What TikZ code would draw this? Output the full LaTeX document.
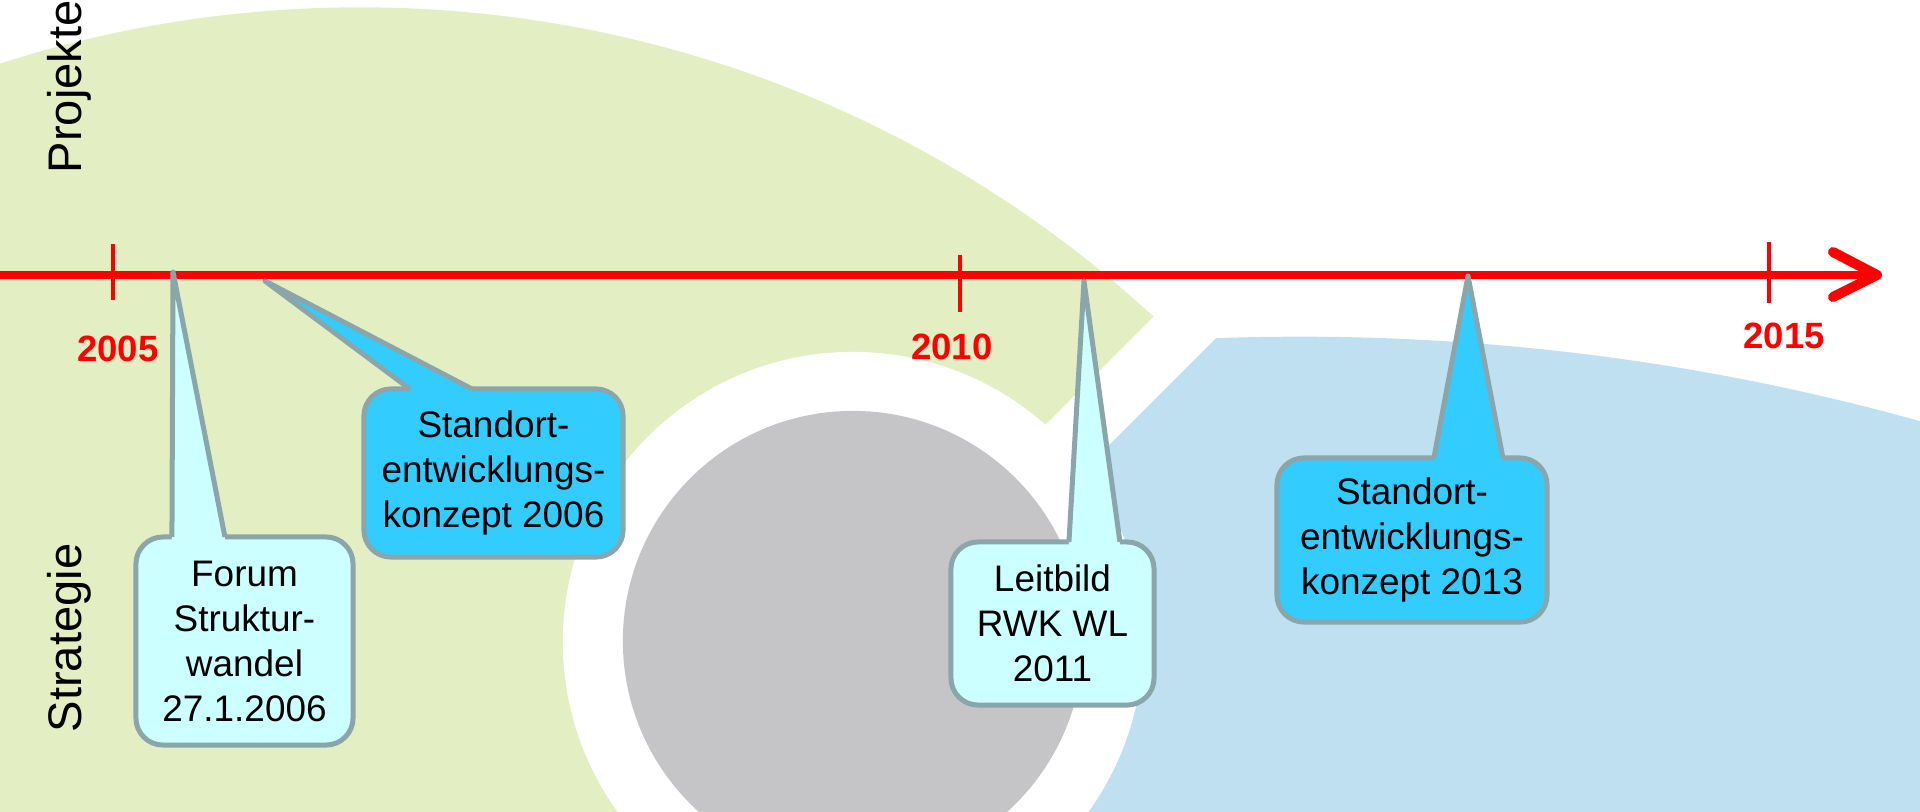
\documentclass[tikz,border=0pt]{standalone}
\usepackage{fontspec}
\setmainfont{Liberation Sans}
\usetikzlibrary{calc,positioning}

\definecolor{projektgruen}{HTML}{E3EEC3}
\definecolor{strategieblau}{HTML}{BFE0F0}
\definecolor{kerngrau}{HTML}{C5C5C7}
\definecolor{hellcyan}{HTML}{CCFFFF}
\definecolor{dunkelcyan}{HTML}{33CCFF}
\definecolor{rahmengrau}{HTML}{8AA6AA}

\tikzset{
  zeitachse/.style={draw=red, line width=0.085cm},
  pfeilkopf/.style={draw=red, line width=0.1cm, line cap=round, line join=round},
  strich/.style={draw=red, line width=0.043cm},
  jahr/.style={text=red, inner sep=0pt, font=\bfseries\fontsize{10.4}{12}\selectfont},
  achsentitel/.style={rotate=90, anchor=base west, inner sep=0pt, font=\fontsize{13.4}{16}\selectfont},
  callout/.style={draw=rahmengrau, line width=0.05cm, rounded corners=0.27cm,
    outer sep=0pt, inner sep=0pt, align=center, font=\fontsize{10.5}{12.8}\selectfont},
  hell/.style={callout, fill=hellcyan},
  dunkel/.style={callout, fill=dunkelcyan},
  zacke/.style={draw=rahmengrau, line width=0.05cm, line join=round}
}

\begin{document}
\begin{tikzpicture}[x=0.01cm,y=-0.01cm]
\useasboundingbox (0,0) rectangle (1920,811);
\clip (0,0) rectangle (1920,811);

% background
\begin{scope}
\clip (-100,-100) -- (1570,-100) -- (-100,1570) -- cycle;
\fill[projektgruen] (360,1180) circle[radius=11.72cm];
\end{scope}
\begin{scope}
\clip (1654,-100) -- (2100,-100) -- (2100,1000) -- (554,1000) -- cycle;
\fill[strategieblau] (1300,2638) circle[radius=23cm];
\end{scope}
\fill[white] (853,642) circle[radius=2.9cm];
\fill[kerngrau] (853,641) circle[radius=2.3cm];

\node[achsentitel] (projekte) at (81,174) {Projekte};
\node[achsentitel] (strategie) at (81,733) {Strategie};

% timeline
\coordinate (achseStart) at (0,275);
\coordinate (achseSpitze) at (1877,275);
\coordinate (kopfOben) at (1833,252);
\coordinate (kopfUnten) at (1833,297);
\draw[zeitachse] (achseStart) -- (achseSpitze);
\draw[pfeilkopf] (kopfOben) -- (achseSpitze) -- (kopfUnten);

\draw[strich] (113,244) -- (113,300);
\draw[strich] (960,255) -- (960,312);
\draw[strich] (1769,242) -- (1769,303);

\node[jahr] (j2005) at (118,349) {2005};
\node[jahr] (j2010) at (952,347) {2010};
\node[jahr] (j2015) at (1784,336) {2015};

% callouts
\node[hell, minimum width=2.17cm, minimum height=2.08cm] (forum) at (244.5,641)
  {Forum\\Struktur-\\wandel\\27.1.2006};
\node[dunkel, minimum width=2.59cm, minimum height=1.68cm] (konzeptA) at (493.5,473)
  {Standort-\\entwicklungs-\\konzept 2006};
\node[hell, minimum width=2.03cm, minimum height=1.63cm] (leitbild) at (1052.5,623.5)
  {Leitbild\\RWK WL\\2011};
\node[dunkel, minimum width=2.70cm, minimum height=1.64cm] (konzeptB) at (1412,540)
  {Standort-\\entwicklungs-\\konzept 2013};

\coordinate (spitzeForum) at (173,272);
\coordinate (spitzeKonzeptA) at (265,281);
\coordinate (spitzeLeitbild) at (1084,281);
\coordinate (spitzeKonzeptB) at (1468,276);

\fill[hellcyan] ($(forum.north west)+(36,3)$) -- ($(forum.north west)+(36,0)$) -- (spitzeForum)
  -- ($(forum.north west)+(89,0)$) -- ($(forum.north west)+(89,3)$) -- cycle;
\draw[zacke] ($(forum.north west)+(36,0)$) -- (spitzeForum) -- ($(forum.north west)+(89,0)$);

\fill[dunkelcyan] ($(konzeptA.north west)+(46,3)$) -- ($(konzeptA.north west)+(46,0)$) -- (spitzeKonzeptA)
  -- ($(konzeptA.north west)+(108,0)$) -- ($(konzeptA.north west)+(108,3)$) -- cycle;
\draw[zacke] ($(konzeptA.north west)+(46,0)$) -- (spitzeKonzeptA) -- ($(konzeptA.north west)+(108,0)$);

\fill[hellcyan] ($(leitbild.north west)+(118,3)$) -- ($(leitbild.north west)+(118,0)$) -- (spitzeLeitbild)
  -- ($(leitbild.north west)+(169,0)$) -- ($(leitbild.north west)+(169,3)$) -- cycle;
\draw[zacke] ($(leitbild.north west)+(118,0)$) -- (spitzeLeitbild) -- ($(leitbild.north west)+(169,0)$);

\fill[dunkelcyan] ($(konzeptB.north west)+(157,3)$) -- ($(konzeptB.north west)+(157,0)$) -- (spitzeKonzeptB)
  -- ($(konzeptB.north west)+(226,0)$) -- ($(konzeptB.north west)+(226,3)$) -- cycle;
\draw[zacke] ($(konzeptB.north west)+(157,0)$) -- (spitzeKonzeptB) -- ($(konzeptB.north west)+(226,0)$);

\end{tikzpicture}
\end{document}
